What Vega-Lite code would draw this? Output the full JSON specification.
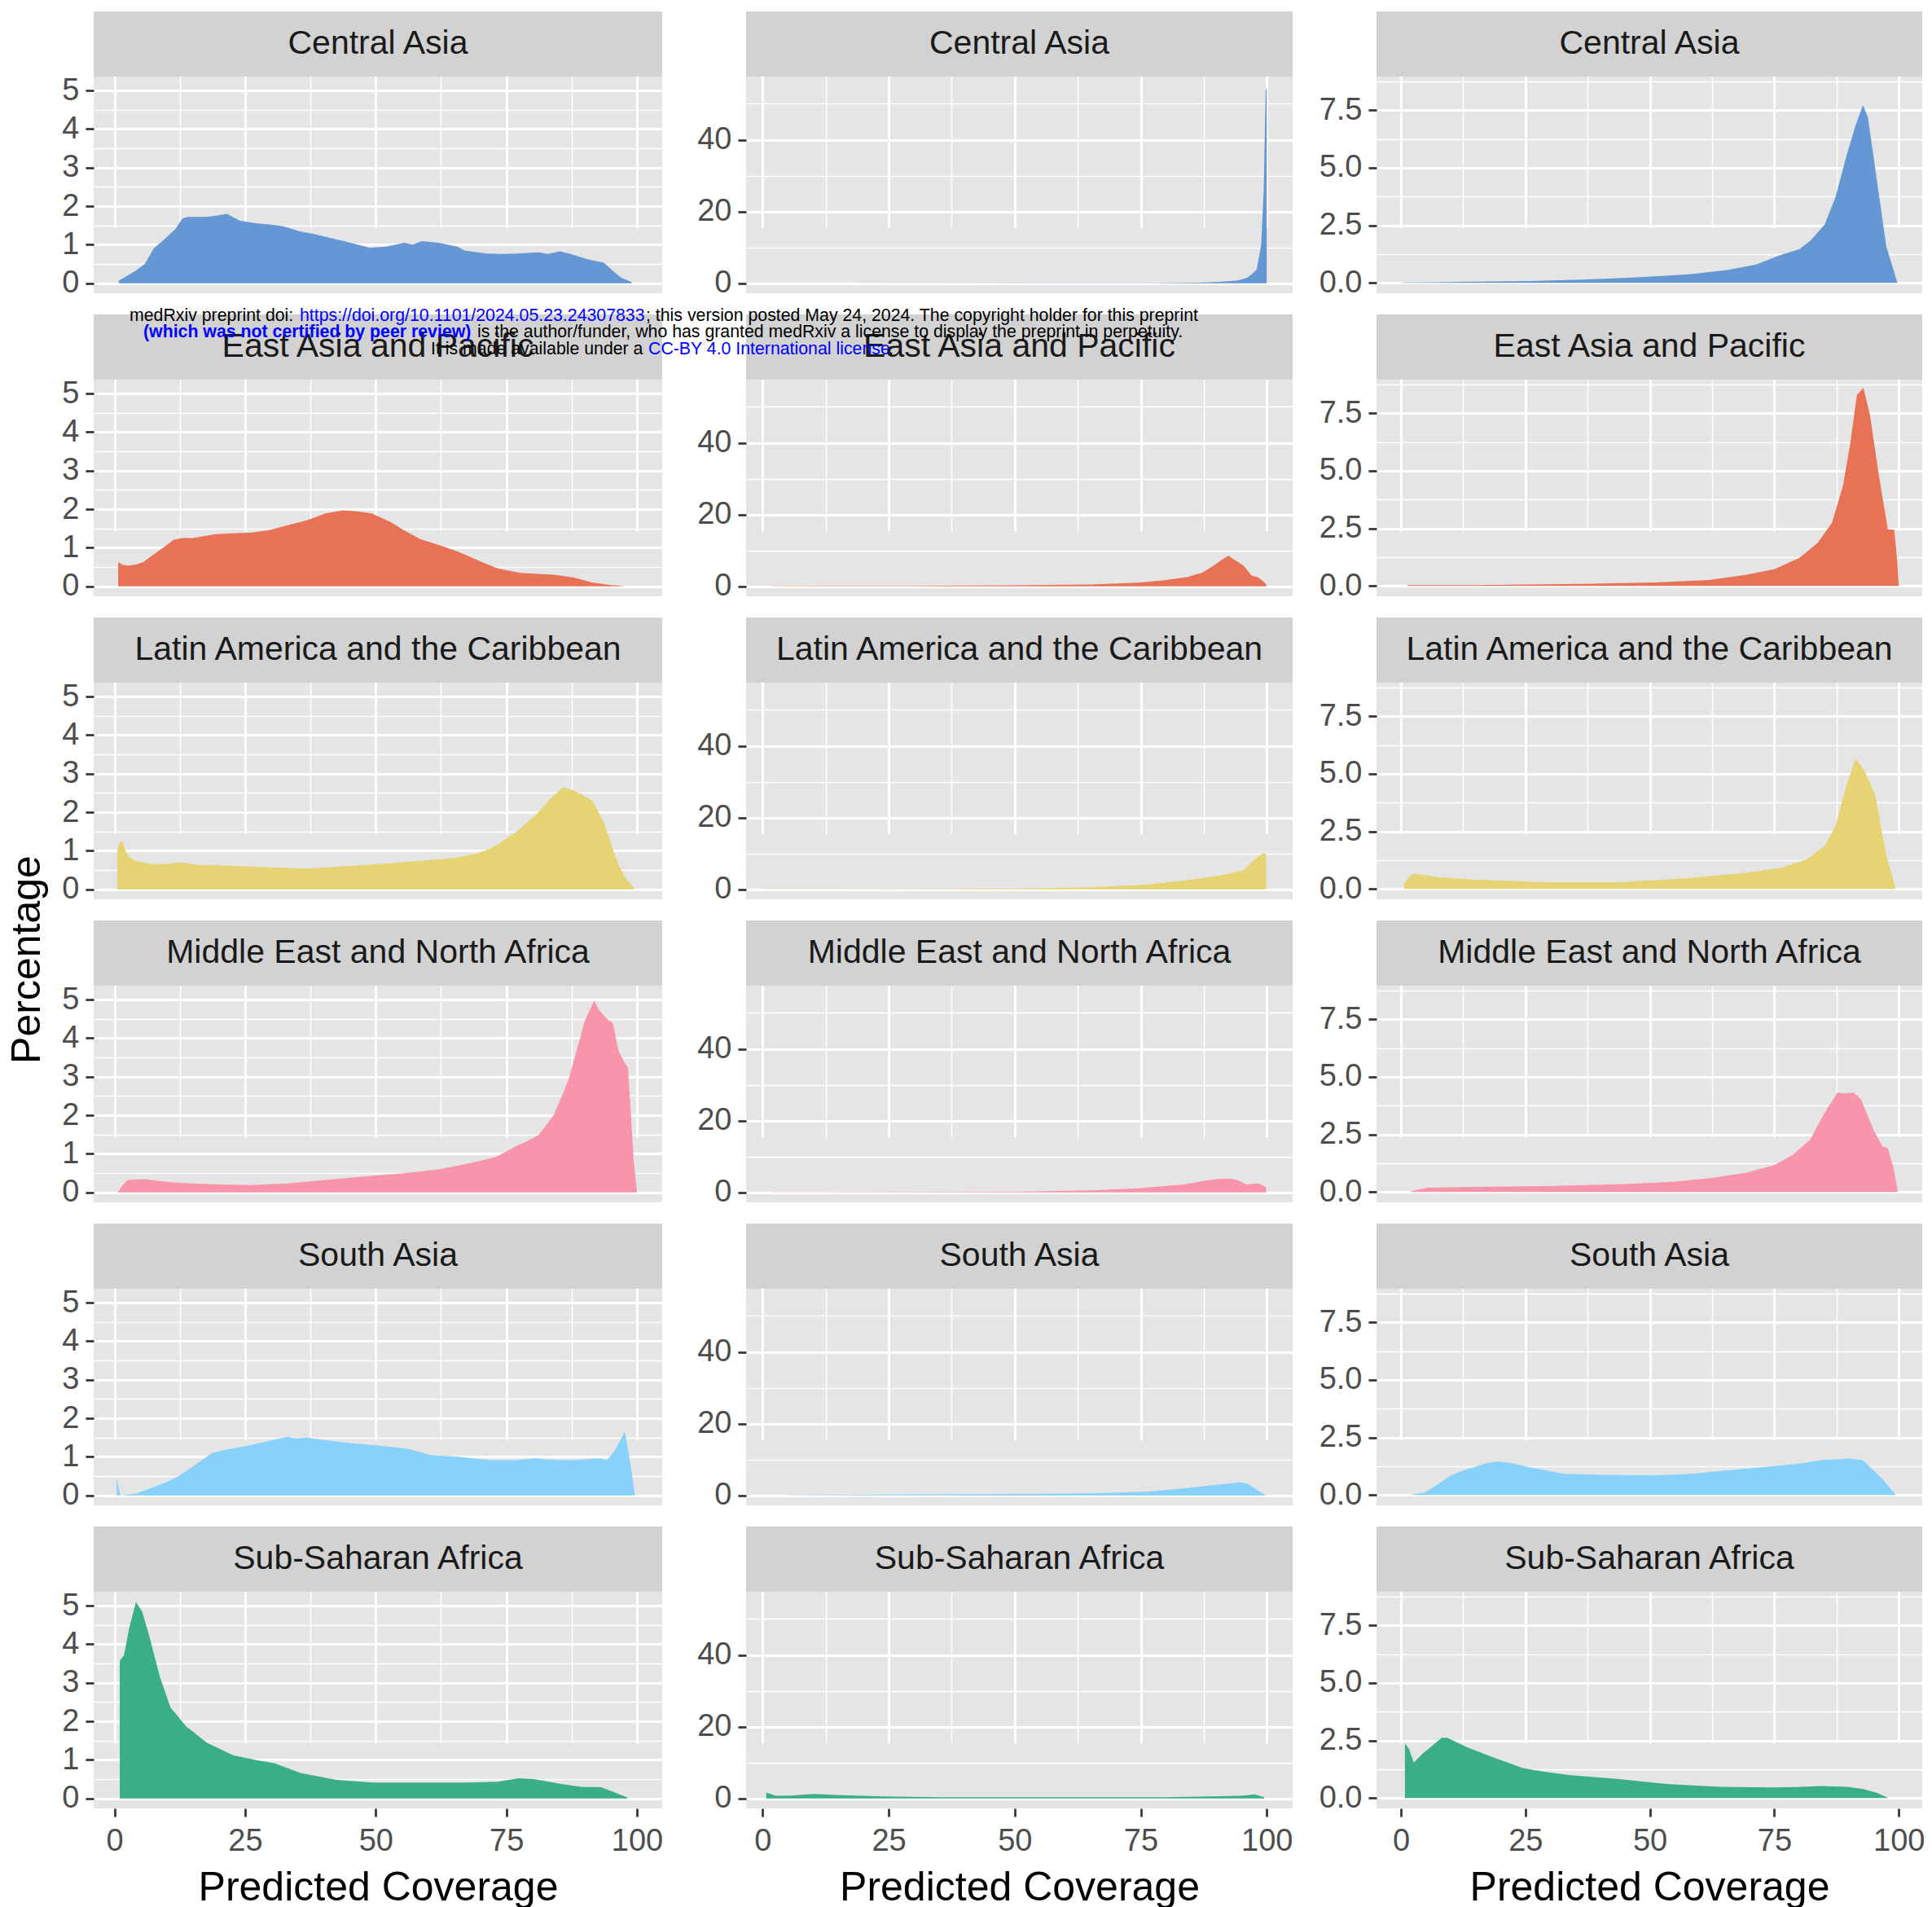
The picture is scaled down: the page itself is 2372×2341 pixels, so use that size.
{
"$schema": "https://vega.github.io/schema/vega-lite/v6.json",
"background": "white",
"padding": {"left": 8, "top": 14, "right": 0, "bottom": 0},
"config": {
  "font": "Liberation Sans",
  "view": {"stroke": null},
  "axis": {"domain": false, "gridColor": "white", "tickColor": "#333333", "labelColor": "#4D4D4D", "labelFont": "Liberation Sans", "labelFontSize": 38, "titleFont": "Liberation Sans", "titleFontWeight": "normal", "titleColor": "black", "titleFontSize": 50},
  "text": {"font": "Liberation Sans"}
},
"datasets": {
  "ca1": [{"x":0.8,"y":0.07},{"x":2.5,"y":0.2},{"x":4,"y":0.32},{"x":5.8,"y":0.5},{"x":7.5,"y":0.9},{"x":10,"y":1.2},{"x":11.6,"y":1.4},{"x":13,"y":1.68},{"x":14,"y":1.72},{"x":17.4,"y":1.72},{"x":19,"y":1.74},{"x":21.5,"y":1.8},{"x":24,"y":1.62},{"x":27.3,"y":1.55},{"x":30,"y":1.52},{"x":32.3,"y":1.48},{"x":35.6,"y":1.34},{"x":38,"y":1.28},{"x":40.6,"y":1.2},{"x":43.9,"y":1.09},{"x":46.5,"y":1.0},{"x":48.9,"y":0.92},{"x":52,"y":0.95},{"x":55.5,"y":1.05},{"x":57,"y":1.0},{"x":58.8,"y":1.09},{"x":62,"y":1.05},{"x":65.6,"y":0.95},{"x":67,"y":0.85},{"x":71.2,"y":0.77},{"x":74,"y":0.76},{"x":77,"y":0.77},{"x":81.2,"y":0.8},{"x":83,"y":0.76},{"x":85.3,"y":0.83},{"x":87,"y":0.77},{"x":90.4,"y":0.63},{"x":93.7,"y":0.53},{"x":95.4,"y":0.32},{"x":97,"y":0.14},{"x":99,"y":0.03}],
  "eap1": [{"x":0.7,"y":0.63},{"x":1.5,"y":0.56},{"x":2.5,"y":0.54},{"x":4,"y":0.56},{"x":5.5,"y":0.63},{"x":7.6,"y":0.84},{"x":9.5,"y":1.02},{"x":11.3,"y":1.21},{"x":13,"y":1.25},{"x":15,"y":1.25},{"x":17,"y":1.3},{"x":19.3,"y":1.35},{"x":22.5,"y":1.37},{"x":25.9,"y":1.39},{"x":29.5,"y":1.45},{"x":33,"y":1.58},{"x":36.8,"y":1.71},{"x":40.4,"y":1.89},{"x":43.7,"y":1.97},{"x":46.5,"y":1.94},{"x":49.2,"y":1.89},{"x":52.8,"y":1.67},{"x":55.7,"y":1.43},{"x":58.6,"y":1.22},{"x":62.3,"y":1.06},{"x":65.9,"y":0.89},{"x":69.6,"y":0.67},{"x":73.2,"y":0.47},{"x":77.6,"y":0.35},{"x":81,"y":0.32},{"x":84.1,"y":0.3},{"x":87.8,"y":0.23},{"x":91.4,"y":0.1},{"x":95,"y":0.03},{"x":98,"y":0.0}],
  "lac1": [{"x":0.5,"y":1.0},{"x":0.9,"y":1.2},{"x":1.5,"y":1.26},{"x":2.2,"y":0.96},{"x":3,"y":0.82},{"x":4,"y":0.74},{"x":6,"y":0.68},{"x":7.6,"y":0.65},{"x":10,"y":0.66},{"x":12.7,"y":0.7},{"x":16.4,"y":0.63},{"x":20,"y":0.62},{"x":25.9,"y":0.59},{"x":30,"y":0.57},{"x":36.8,"y":0.54},{"x":42,"y":0.58},{"x":47.7,"y":0.63},{"x":53,"y":0.68},{"x":58.6,"y":0.74},{"x":62,"y":0.78},{"x":65.9,"y":0.83},{"x":69,"y":0.92},{"x":71.7,"y":1.04},{"x":74,"y":1.22},{"x":76.8,"y":1.48},{"x":78.7,"y":1.7},{"x":80.5,"y":1.91},{"x":82,"y":2.12},{"x":83.4,"y":2.35},{"x":85.9,"y":2.65},{"x":87.8,"y":2.57},{"x":89.5,"y":2.45},{"x":91.4,"y":2.3},{"x":92.5,"y":2.05},{"x":93.6,"y":1.74},{"x":94.8,"y":1.3},{"x":95.8,"y":0.87},{"x":97,"y":0.5},{"x":98,"y":0.26},{"x":99.4,"y":0.04}],
  "mena1": [{"x":0.7,"y":0.02},{"x":1.5,"y":0.18},{"x":2.5,"y":0.32},{"x":4,"y":0.33},{"x":5.8,"y":0.34},{"x":8,"y":0.3},{"x":11.3,"y":0.26},{"x":15,"y":0.23},{"x":18.6,"y":0.21},{"x":25.9,"y":0.19},{"x":33.1,"y":0.23},{"x":40.4,"y":0.32},{"x":47.7,"y":0.41},{"x":55,"y":0.49},{"x":62.3,"y":0.6},{"x":66,"y":0.7},{"x":69.6,"y":0.8},{"x":73.2,"y":0.93},{"x":76.8,"y":1.19},{"x":79,"y":1.33},{"x":81.2,"y":1.49},{"x":84.1,"y":2.01},{"x":85.5,"y":2.45},{"x":87,"y":2.96},{"x":88.5,"y":3.7},{"x":90,"y":4.44},{"x":91.8,"y":4.97},{"x":92.9,"y":4.7},{"x":94.3,"y":4.5},{"x":95.4,"y":4.39},{"x":96.5,"y":3.66},{"x":97.5,"y":3.4},{"x":98.3,"y":3.22},{"x":99.4,"y":0.8},{"x":100,"y":0.02}],
  "sa1": [{"x":0.4,"y":0.43},{"x":0.8,"y":0.2},{"x":1.1,"y":0.0},{"x":4,"y":0.04},{"x":7.6,"y":0.22},{"x":10,"y":0.35},{"x":12,"y":0.48},{"x":14.9,"y":0.74},{"x":18.6,"y":1.09},{"x":20.8,"y":1.17},{"x":25.9,"y":1.3},{"x":29.5,"y":1.41},{"x":33.1,"y":1.52},{"x":34.5,"y":1.48},{"x":36.8,"y":1.5},{"x":40.4,"y":1.43},{"x":44.1,"y":1.37},{"x":49.9,"y":1.3},{"x":55.7,"y":1.22},{"x":60.8,"y":1.04},{"x":65.9,"y":1.0},{"x":71.7,"y":0.91},{"x":76.8,"y":0.91},{"x":80.5,"y":0.96},{"x":84,"y":0.92},{"x":87.8,"y":0.91},{"x":92.9,"y":0.96},{"x":94.3,"y":0.91},{"x":95.8,"y":1.17},{"x":97.7,"y":1.65},{"x":98.7,"y":0.87},{"x":99.6,"y":0.02}],
  "ssa1": [{"x":1,"y":3.57},{"x":1.8,"y":3.71},{"x":2.8,"y":4.42},{"x":4.1,"y":5.09},{"x":5.3,"y":4.84},{"x":6.8,"y":4.13},{"x":8.7,"y":3.14},{"x":10.7,"y":2.36},{"x":13.7,"y":1.87},{"x":17.7,"y":1.44},{"x":22.7,"y":1.12},{"x":27.6,"y":0.98},{"x":30.6,"y":0.91},{"x":35.6,"y":0.66},{"x":42.5,"y":0.48},{"x":49.5,"y":0.41},{"x":57.5,"y":0.41},{"x":67.4,"y":0.41},{"x":73.4,"y":0.43},{"x":77.3,"y":0.52},{"x":80.3,"y":0.5},{"x":85.3,"y":0.38},{"x":89.3,"y":0.3},{"x":93.2,"y":0.29},{"x":96.2,"y":0.13},{"x":98.2,"y":0.02}],
  "ca2": [{"x":1,"y":0.0},{"x":60,"y":0.02},{"x":76.7,"y":0.05},{"x":86,"y":0.15},{"x":90.6,"y":0.4},{"x":94.3,"y":0.8},{"x":96.1,"y":1.5},{"x":97,"y":2.5},{"x":98,"y":3.8},{"x":98.9,"y":10.6},{"x":99.4,"y":25.8},{"x":99.8,"y":53.5},{"x":100,"y":54.8}],
  "eap2": [{"x":1.9,"y":0.05},{"x":30,"y":0.1},{"x":50,"y":0.25},{"x":65,"y":0.5},{"x":74.6,"y":1.0},{"x":79.8,"y":1.7},{"x":84.3,"y":2.6},{"x":87.2,"y":3.8},{"x":89.5,"y":5.8},{"x":91,"y":7.3},{"x":92.4,"y":8.5},{"x":94,"y":7.0},{"x":95.4,"y":5.8},{"x":97,"y":3.0},{"x":98.4,"y":2.4},{"x":99.9,"y":0.6}],
  "lac2": [{"x":0.4,"y":0.05},{"x":30,"y":0.08},{"x":50,"y":0.15},{"x":65,"y":0.55},{"x":76.1,"y":1.3},{"x":83.5,"y":2.4},{"x":91,"y":3.9},{"x":95.4,"y":5.3},{"x":97.6,"y":8.3},{"x":99.1,"y":9.9},{"x":99.9,"y":9.9}],
  "mena2": [{"x":1.9,"y":0.05},{"x":30,"y":0.08},{"x":50,"y":0.15},{"x":65,"y":0.55},{"x":74.6,"y":1.1},{"x":83.5,"y":2.2},{"x":87.9,"y":3.3},{"x":90.5,"y":3.7},{"x":93.1,"y":3.8},{"x":94.5,"y":3.2},{"x":96,"y":2.2},{"x":98.4,"y":2.5},{"x":99.9,"y":1.4}],
  "sa2": [{"x":5.6,"y":0.05},{"x":42.7,"y":0.3},{"x":65,"y":0.55},{"x":76.1,"y":1.0},{"x":83.5,"y":1.9},{"x":89.5,"y":2.9},{"x":94.7,"y":3.6},{"x":96.1,"y":3.3},{"x":98,"y":1.65},{"x":99.7,"y":0.1}],
  "ssa2": [{"x":0.7,"y":1.65},{"x":2.6,"y":0.7},{"x":5.6,"y":0.8},{"x":10,"y":1.25},{"x":14.5,"y":0.95},{"x":24.1,"y":0.55},{"x":35.3,"y":0.3},{"x":50,"y":0.3},{"x":65,"y":0.3},{"x":79.9,"y":0.3},{"x":94.7,"y":0.7},{"x":97.6,"y":1.1},{"x":99.5,"y":0.3}],
  "ca3": [{"x":0.2,"y":0.02},{"x":14.7,"y":0.05},{"x":25.6,"y":0.08},{"x":36.5,"y":0.14},{"x":47.4,"y":0.24},{"x":58.3,"y":0.38},{"x":65.5,"y":0.56},{"x":71.3,"y":0.8},{"x":76.4,"y":1.22},{"x":80,"y":1.46},{"x":82.2,"y":1.82},{"x":85.1,"y":2.53},{"x":87.3,"y":3.73},{"x":89.5,"y":5.52},{"x":91.3,"y":6.83},{"x":92.8,"y":7.72},{"x":93.8,"y":7.19},{"x":95.3,"y":4.92},{"x":97.5,"y":1.58},{"x":99.7,"y":0.02}],
  "eap3": [{"x":1.3,"y":0.04},{"x":14.7,"y":0.04},{"x":36.5,"y":0.09},{"x":51,"y":0.15},{"x":61.9,"y":0.26},{"x":69.2,"y":0.48},{"x":75,"y":0.73},{"x":80,"y":1.21},{"x":83.7,"y":1.87},{"x":86.6,"y":2.75},{"x":88.8,"y":4.36},{"x":90.2,"y":6.11},{"x":91.6,"y":8.3},{"x":92.9,"y":8.6},{"x":94.2,"y":7.43},{"x":96,"y":4.8},{"x":97.8,"y":2.46},{"x":99.1,"y":2.43},{"x":99.6,"y":1.29},{"x":100,"y":0.04}],
  "lac3": [{"x":0.6,"y":0.2},{"x":1.5,"y":0.5},{"x":2.4,"y":0.67},{"x":7.5,"y":0.51},{"x":14.7,"y":0.41},{"x":29.2,"y":0.29},{"x":43.8,"y":0.29},{"x":58.3,"y":0.48},{"x":69.2,"y":0.7},{"x":76.4,"y":0.92},{"x":81.5,"y":1.28},{"x":85.1,"y":1.87},{"x":87.3,"y":2.74},{"x":89.5,"y":4.5},{"x":91.3,"y":5.66},{"x":93.1,"y":5.15},{"x":95.3,"y":4.06},{"x":97.5,"y":1.43},{"x":99.3,"y":0.12}],
  "mena3": [{"x":2,"y":0.03},{"x":5.3,"y":0.19},{"x":14.7,"y":0.22},{"x":29.2,"y":0.26},{"x":43.8,"y":0.34},{"x":54.6,"y":0.44},{"x":61.9,"y":0.59},{"x":69.2,"y":0.83},{"x":75,"y":1.17},{"x":78.7,"y":1.61},{"x":82.2,"y":2.27},{"x":85.1,"y":3.44},{"x":87.7,"y":4.32},{"x":89.1,"y":4.28},{"x":90.9,"y":4.32},{"x":92.4,"y":4.03},{"x":94.9,"y":2.71},{"x":96.7,"y":1.98},{"x":97.8,"y":1.9},{"x":98.9,"y":1.1},{"x":99.8,"y":0.03}],
  "sa3": [{"x":2.4,"y":0.04},{"x":4.9,"y":0.12},{"x":7.5,"y":0.48},{"x":10,"y":0.85},{"x":12.6,"y":1.07},{"x":16.9,"y":1.36},{"x":19.1,"y":1.46},{"x":22,"y":1.4},{"x":25.6,"y":1.21},{"x":32.8,"y":0.92},{"x":40.1,"y":0.88},{"x":51,"y":0.85},{"x":58.3,"y":0.92},{"x":65.5,"y":1.07},{"x":72.8,"y":1.21},{"x":80,"y":1.36},{"x":84.3,"y":1.51},{"x":90.1,"y":1.58},{"x":92.7,"y":1.51},{"x":94.6,"y":1.14},{"x":96.7,"y":0.7},{"x":99.3,"y":0.04}],
  "ssa3": [{"x":0.8,"y":2.38},{"x":1.6,"y":2.14},{"x":2.6,"y":1.54},{"x":4.2,"y":1.9},{"x":6.2,"y":2.26},{"x":8.2,"y":2.62},{"x":9.3,"y":2.62},{"x":13.3,"y":2.2},{"x":18.4,"y":1.78},{"x":24.5,"y":1.3},{"x":28.6,"y":1.15},{"x":33.7,"y":1.0},{"x":43.8,"y":0.82},{"x":54,"y":0.6},{"x":64.2,"y":0.49},{"x":74.4,"y":0.46},{"x":79.5,"y":0.48},{"x":84.5,"y":0.52},{"x":89.6,"y":0.49},{"x":92.7,"y":0.4},{"x":95.7,"y":0.22},{"x":97.9,"y":0.0}]
},
"title": {"text": "Percentage", "orient": "left", "anchor": "middle", "fontSize": 50, "fontWeight": "normal", "font": "Liberation Sans", "color": "black", "offset": 17},
"columns": 3,
"spacing": {"row": 26, "column": 103},
"bounds": "flush",
"concat": [
 {"width": 698, "height": 346, "view": {"fill": "#E5E5E5", "stroke": null}, "resolve": {"scale": {"y": "independent"}, "axis": {"x": "independent", "y": "independent"}},
  "layer": [
   {"data": {"name": "ca1"}, "resolve": {"axis": {"x": "independent", "y": "independent"}}, "layer": [
     {"mark": {"type": "area", "opacity": 0}, "encoding": {
       "x": {"field": "x", "type": "quantitative", "scale": {"domain": [-4.0, 104.84], "nice": false, "zero": false}, "axis": {"orient": "bottom", "values": [12.5, 37.5, 62.5, 87.5], "grid": true, "gridWidth": 1.5, "labels": false, "ticks": false, "title": null}},
       "y": {"field": "y", "type": "quantitative", "stack": null, "scale": {"domain": [-0.26, 5.36], "range": [346, 80], "nice": false, "zero": false}, "axis": {"orient": "left", "values": [0.5, 1.5, 2.5, 3.5, 4.5], "grid": true, "gridWidth": 1.5, "labels": false, "ticks": false, "title": null}}}},
     {"mark": {"type": "area", "color": "#6497D3"}, "encoding": {
       "x": {"field": "x", "type": "quantitative", "axis": {"orient": "bottom", "values": [0, 25, 50, 75, 100], "grid": true, "gridWidth": 3, "labels": false, "ticks": false, "title": null}},
       "y": {"field": "y", "type": "quantitative", "stack": null, "axis": {"orient": "left", "values": [0, 1, 2, 3, 4, 5], "grid": true, "gridWidth": 3, "tickSize": 10, "tickWidth": 2.7, "labelPadding": 8, "title": null}}}}]},
   {"data": {"values": [{"label": "Central Asia"}]}, "layer": [
     {"mark": {"type": "rect", "color": "#D2D2D2"}, "encoding": {"y": {"datum": 0, "type": "quantitative", "scale": {"domain": [0, 1], "range": [80, 0]}, "axis": null}, "y2": {"datum": 1}}},
     {"mark": {"type": "text", "fontSize": 41, "color": "#1A1A1A", "baseline": "middle", "align": "center"}, "encoding": {"text": {"field": "label"}, "y": {"datum": 0.5, "type": "quantitative"}}}]}
  ]},
 {"width": 671, "height": 346, "view": {"fill": "#E5E5E5", "stroke": null}, "resolve": {"scale": {"y": "independent"}, "axis": {"x": "independent", "y": "independent"}},
  "layer": [
   {"data": {"name": "ca2"}, "resolve": {"axis": {"x": "independent", "y": "independent"}}, "layer": [
     {"mark": {"type": "area", "opacity": 0}, "encoding": {
       "x": {"field": "x", "type": "quantitative", "scale": {"domain": [-3.3, 105.14], "nice": false, "zero": false}, "axis": {"orient": "bottom", "values": [12.5, 37.5, 62.5, 87.5], "grid": true, "gridWidth": 1.5, "labels": false, "ticks": false, "title": null}},
       "y": {"field": "y", "type": "quantitative", "stack": null, "scale": {"domain": [-2.8, 57.6], "range": [346, 80], "nice": false, "zero": false}, "axis": {"orient": "left", "values": [10, 30, 50], "grid": true, "gridWidth": 1.5, "labels": false, "ticks": false, "title": null}}}},
     {"mark": {"type": "area", "color": "#6497D3"}, "encoding": {
       "x": {"field": "x", "type": "quantitative", "axis": {"orient": "bottom", "values": [0, 25, 50, 75, 100], "grid": true, "gridWidth": 3, "labels": false, "ticks": false, "title": null}},
       "y": {"field": "y", "type": "quantitative", "stack": null, "axis": {"orient": "left", "values": [0, 20, 40], "grid": true, "gridWidth": 3, "tickSize": 10, "tickWidth": 2.7, "labelPadding": 8, "title": null}}}}]},
   {"data": {"values": [{"label": "Central Asia"}]}, "layer": [
     {"mark": {"type": "rect", "color": "#D2D2D2"}, "encoding": {"y": {"datum": 0, "type": "quantitative", "scale": {"domain": [0, 1], "range": [80, 0]}, "axis": null}, "y2": {"datum": 1}}},
     {"mark": {"type": "text", "fontSize": 41, "color": "#1A1A1A", "baseline": "middle", "align": "center"}, "encoding": {"text": {"field": "label"}, "y": {"datum": 0.5, "type": "quantitative"}}}]}
  ]},
 {"width": 670, "height": 346, "view": {"fill": "#E5E5E5", "stroke": null}, "resolve": {"scale": {"y": "independent"}, "axis": {"x": "independent", "y": "independent"}},
  "layer": [
   {"data": {"name": "ca3"}, "resolve": {"axis": {"x": "independent", "y": "independent"}}, "layer": [
     {"mark": {"type": "area", "opacity": 0}, "encoding": {
       "x": {"field": "x", "type": "quantitative", "scale": {"domain": [-4.91, 104.71], "nice": false, "zero": false}, "axis": {"orient": "bottom", "values": [12.5, 37.5, 62.5, 87.5], "grid": true, "gridWidth": 1.5, "labels": false, "ticks": false, "title": null}},
       "y": {"field": "y", "type": "quantitative", "stack": null, "scale": {"domain": [-0.45, 8.96], "range": [346, 80], "nice": false, "zero": false}, "axis": {"orient": "left", "values": [1.25, 3.75, 6.25, 8.75], "grid": true, "gridWidth": 1.5, "labels": false, "ticks": false, "title": null}}}},
     {"mark": {"type": "area", "color": "#6497D3"}, "encoding": {
       "x": {"field": "x", "type": "quantitative", "axis": {"orient": "bottom", "values": [0, 25, 50, 75, 100], "grid": true, "gridWidth": 3, "labels": false, "ticks": false, "title": null}},
       "y": {"field": "y", "type": "quantitative", "stack": null, "axis": {"orient": "left", "values": [0, 2.5, 5, 7.5], "format": ".1f", "grid": true, "gridWidth": 3, "tickSize": 10, "tickWidth": 2.7, "labelPadding": 8, "title": null}}}}]},
   {"data": {"values": [{"label": "Central Asia"}]}, "layer": [
     {"mark": {"type": "rect", "color": "#D2D2D2"}, "encoding": {"y": {"datum": 0, "type": "quantitative", "scale": {"domain": [0, 1], "range": [80, 0]}, "axis": null}, "y2": {"datum": 1}}},
     {"mark": {"type": "text", "fontSize": 41, "color": "#1A1A1A", "baseline": "middle", "align": "center"}, "encoding": {"text": {"field": "label"}, "y": {"datum": 0.5, "type": "quantitative"}}}]}
  ]},

 {"width": 698, "height": 346, "view": {"fill": "#E5E5E5", "stroke": null}, "resolve": {"scale": {"y": "independent"}, "axis": {"x": "independent", "y": "independent"}},
  "layer": [
   {"data": {"name": "eap1"}, "resolve": {"axis": {"x": "independent", "y": "independent"}}, "layer": [
     {"mark": {"type": "area", "opacity": 0}, "encoding": {
       "x": {"field": "x", "type": "quantitative", "scale": {"domain": [-4.0, 104.84], "nice": false, "zero": false}, "axis": {"orient": "bottom", "values": [12.5, 37.5, 62.5, 87.5], "grid": true, "gridWidth": 1.5, "labels": false, "ticks": false, "title": null}},
       "y": {"field": "y", "type": "quantitative", "stack": null, "scale": {"domain": [-0.26, 5.36], "range": [346, 80], "nice": false, "zero": false}, "axis": {"orient": "left", "values": [0.5, 1.5, 2.5, 3.5, 4.5], "grid": true, "gridWidth": 1.5, "labels": false, "ticks": false, "title": null}}}},
     {"mark": {"type": "area", "color": "#E87255"}, "encoding": {
       "x": {"field": "x", "type": "quantitative", "axis": {"orient": "bottom", "values": [0, 25, 50, 75, 100], "grid": true, "gridWidth": 3, "labels": false, "ticks": false, "title": null}},
       "y": {"field": "y", "type": "quantitative", "stack": null, "axis": {"orient": "left", "values": [0, 1, 2, 3, 4, 5], "grid": true, "gridWidth": 3, "tickSize": 10, "tickWidth": 2.7, "labelPadding": 8, "title": null}}}}]},
   {"data": {"values": [{"label": "East Asia and Pacific"}]}, "layer": [
     {"mark": {"type": "rect", "color": "#D2D2D2"}, "encoding": {"y": {"datum": 0, "type": "quantitative", "scale": {"domain": [0, 1], "range": [80, 0]}, "axis": null}, "y2": {"datum": 1}}},
     {"mark": {"type": "text", "fontSize": 41, "color": "#1A1A1A", "baseline": "middle", "align": "center"}, "encoding": {"text": {"field": "label"}, "y": {"datum": 0.5, "type": "quantitative"}}}]}
  ]},
 {"width": 671, "height": 346, "view": {"fill": "#E5E5E5", "stroke": null}, "resolve": {"scale": {"y": "independent"}, "axis": {"x": "independent", "y": "independent"}},
  "layer": [
   {"data": {"name": "eap2"}, "resolve": {"axis": {"x": "independent", "y": "independent"}}, "layer": [
     {"mark": {"type": "area", "opacity": 0}, "encoding": {
       "x": {"field": "x", "type": "quantitative", "scale": {"domain": [-3.3, 105.14], "nice": false, "zero": false}, "axis": {"orient": "bottom", "values": [12.5, 37.5, 62.5, 87.5], "grid": true, "gridWidth": 1.5, "labels": false, "ticks": false, "title": null}},
       "y": {"field": "y", "type": "quantitative", "stack": null, "scale": {"domain": [-2.8, 57.6], "range": [346, 80], "nice": false, "zero": false}, "axis": {"orient": "left", "values": [10, 30, 50], "grid": true, "gridWidth": 1.5, "labels": false, "ticks": false, "title": null}}}},
     {"mark": {"type": "area", "color": "#E87255"}, "encoding": {
       "x": {"field": "x", "type": "quantitative", "axis": {"orient": "bottom", "values": [0, 25, 50, 75, 100], "grid": true, "gridWidth": 3, "labels": false, "ticks": false, "title": null}},
       "y": {"field": "y", "type": "quantitative", "stack": null, "axis": {"orient": "left", "values": [0, 20, 40], "grid": true, "gridWidth": 3, "tickSize": 10, "tickWidth": 2.7, "labelPadding": 8, "title": null}}}}]},
   {"data": {"values": [{"label": "East Asia and Pacific"}]}, "layer": [
     {"mark": {"type": "rect", "color": "#D2D2D2"}, "encoding": {"y": {"datum": 0, "type": "quantitative", "scale": {"domain": [0, 1], "range": [80, 0]}, "axis": null}, "y2": {"datum": 1}}},
     {"mark": {"type": "text", "fontSize": 41, "color": "#1A1A1A", "baseline": "middle", "align": "center"}, "encoding": {"text": {"field": "label"}, "y": {"datum": 0.5, "type": "quantitative"}}},
     {"mark": {"type": "text", "text": "medRxiv preprint doi:", "fontSize": 21.3, "color": "black", "align": "left", "baseline": "middle", "dx": -1092.5}, "encoding": {"y": {"datum": 0.975, "type": "quantitative"}}},
     {"mark": {"type": "text", "text": "https://doi.org/10.1101/2024.05.23.24307833", "fontSize": 21.3, "color": "#0000FF", "align": "left", "baseline": "middle", "dx": -883.5}, "encoding": {"y": {"datum": 0.975, "type": "quantitative"}}},
     {"mark": {"type": "text", "text": "; this version posted May 24, 2024. The copyright holder for this preprint", "fontSize": 21.3, "color": "black", "align": "left", "baseline": "middle", "dx": -458.5}, "encoding": {"y": {"datum": 0.975, "type": "quantitative"}}},
     {"mark": {"type": "text", "text": "(which was not certified by peer review)", "fontSize": 21.3, "fontWeight": "bold", "color": "#0000FF", "align": "left", "baseline": "middle", "dx": -1075.5}, "encoding": {"y": {"datum": 0.725, "type": "quantitative"}}},
     {"mark": {"type": "text", "text": "is the author/funder, who has granted medRxiv a license to display the preprint in perpetuity.", "fontSize": 21.3, "color": "black", "align": "left", "baseline": "middle", "dx": -665.5}, "encoding": {"y": {"datum": 0.725, "type": "quantitative"}}},
     {"mark": {"type": "text", "text": "It is made available under a", "fontSize": 21.3, "color": "black", "align": "left", "baseline": "middle", "dx": -722.5}, "encoding": {"y": {"datum": 0.4625, "type": "quantitative"}}},
     {"mark": {"type": "text", "text": "CC-BY 4.0 International license", "fontSize": 21.3, "color": "#0000FF", "align": "left", "baseline": "middle", "dx": -455.5}, "encoding": {"y": {"datum": 0.4625, "type": "quantitative"}}},
     {"mark": {"type": "text", "text": ".", "fontSize": 21.3, "color": "black", "align": "left", "baseline": "middle", "dx": -160.5}, "encoding": {"y": {"datum": 0.4625, "type": "quantitative"}}}]}
  ]},
 {"width": 670, "height": 346, "view": {"fill": "#E5E5E5", "stroke": null}, "resolve": {"scale": {"y": "independent"}, "axis": {"x": "independent", "y": "independent"}},
  "layer": [
   {"data": {"name": "eap3"}, "resolve": {"axis": {"x": "independent", "y": "independent"}}, "layer": [
     {"mark": {"type": "area", "opacity": 0}, "encoding": {
       "x": {"field": "x", "type": "quantitative", "scale": {"domain": [-4.91, 104.71], "nice": false, "zero": false}, "axis": {"orient": "bottom", "values": [12.5, 37.5, 62.5, 87.5], "grid": true, "gridWidth": 1.5, "labels": false, "ticks": false, "title": null}},
       "y": {"field": "y", "type": "quantitative", "stack": null, "scale": {"domain": [-0.45, 8.96], "range": [346, 80], "nice": false, "zero": false}, "axis": {"orient": "left", "values": [1.25, 3.75, 6.25, 8.75], "grid": true, "gridWidth": 1.5, "labels": false, "ticks": false, "title": null}}}},
     {"mark": {"type": "area", "color": "#E87255"}, "encoding": {
       "x": {"field": "x", "type": "quantitative", "axis": {"orient": "bottom", "values": [0, 25, 50, 75, 100], "grid": true, "gridWidth": 3, "labels": false, "ticks": false, "title": null}},
       "y": {"field": "y", "type": "quantitative", "stack": null, "axis": {"orient": "left", "values": [0, 2.5, 5, 7.5], "format": ".1f", "grid": true, "gridWidth": 3, "tickSize": 10, "tickWidth": 2.7, "labelPadding": 8, "title": null}}}}]},
   {"data": {"values": [{"label": "East Asia and Pacific"}]}, "layer": [
     {"mark": {"type": "rect", "color": "#D2D2D2"}, "encoding": {"y": {"datum": 0, "type": "quantitative", "scale": {"domain": [0, 1], "range": [80, 0]}, "axis": null}, "y2": {"datum": 1}}},
     {"mark": {"type": "text", "fontSize": 41, "color": "#1A1A1A", "baseline": "middle", "align": "center"}, "encoding": {"text": {"field": "label"}, "y": {"datum": 0.5, "type": "quantitative"}}}]}
  ]},

 {"width": 698, "height": 346, "view": {"fill": "#E5E5E5", "stroke": null}, "resolve": {"scale": {"y": "independent"}, "axis": {"x": "independent", "y": "independent"}},
  "layer": [
   {"data": {"name": "lac1"}, "resolve": {"axis": {"x": "independent", "y": "independent"}}, "layer": [
     {"mark": {"type": "area", "opacity": 0}, "encoding": {
       "x": {"field": "x", "type": "quantitative", "scale": {"domain": [-4.0, 104.84], "nice": false, "zero": false}, "axis": {"orient": "bottom", "values": [12.5, 37.5, 62.5, 87.5], "grid": true, "gridWidth": 1.5, "labels": false, "ticks": false, "title": null}},
       "y": {"field": "y", "type": "quantitative", "stack": null, "scale": {"domain": [-0.26, 5.36], "range": [346, 80], "nice": false, "zero": false}, "axis": {"orient": "left", "values": [0.5, 1.5, 2.5, 3.5, 4.5], "grid": true, "gridWidth": 1.5, "labels": false, "ticks": false, "title": null}}}},
     {"mark": {"type": "area", "color": "#E6D474"}, "encoding": {
       "x": {"field": "x", "type": "quantitative", "axis": {"orient": "bottom", "values": [0, 25, 50, 75, 100], "grid": true, "gridWidth": 3, "labels": false, "ticks": false, "title": null}},
       "y": {"field": "y", "type": "quantitative", "stack": null, "axis": {"orient": "left", "values": [0, 1, 2, 3, 4, 5], "grid": true, "gridWidth": 3, "tickSize": 10, "tickWidth": 2.7, "labelPadding": 8, "title": null}}}}]},
   {"data": {"values": [{"label": "Latin America and the Caribbean"}]}, "layer": [
     {"mark": {"type": "rect", "color": "#D2D2D2"}, "encoding": {"y": {"datum": 0, "type": "quantitative", "scale": {"domain": [0, 1], "range": [80, 0]}, "axis": null}, "y2": {"datum": 1}}},
     {"mark": {"type": "text", "fontSize": 41, "color": "#1A1A1A", "baseline": "middle", "align": "center"}, "encoding": {"text": {"field": "label"}, "y": {"datum": 0.5, "type": "quantitative"}}}]}
  ]},
 {"width": 671, "height": 346, "view": {"fill": "#E5E5E5", "stroke": null}, "resolve": {"scale": {"y": "independent"}, "axis": {"x": "independent", "y": "independent"}},
  "layer": [
   {"data": {"name": "lac2"}, "resolve": {"axis": {"x": "independent", "y": "independent"}}, "layer": [
     {"mark": {"type": "area", "opacity": 0}, "encoding": {
       "x": {"field": "x", "type": "quantitative", "scale": {"domain": [-3.3, 105.14], "nice": false, "zero": false}, "axis": {"orient": "bottom", "values": [12.5, 37.5, 62.5, 87.5], "grid": true, "gridWidth": 1.5, "labels": false, "ticks": false, "title": null}},
       "y": {"field": "y", "type": "quantitative", "stack": null, "scale": {"domain": [-2.8, 57.6], "range": [346, 80], "nice": false, "zero": false}, "axis": {"orient": "left", "values": [10, 30, 50], "grid": true, "gridWidth": 1.5, "labels": false, "ticks": false, "title": null}}}},
     {"mark": {"type": "area", "color": "#E6D474"}, "encoding": {
       "x": {"field": "x", "type": "quantitative", "axis": {"orient": "bottom", "values": [0, 25, 50, 75, 100], "grid": true, "gridWidth": 3, "labels": false, "ticks": false, "title": null}},
       "y": {"field": "y", "type": "quantitative", "stack": null, "axis": {"orient": "left", "values": [0, 20, 40], "grid": true, "gridWidth": 3, "tickSize": 10, "tickWidth": 2.7, "labelPadding": 8, "title": null}}}}]},
   {"data": {"values": [{"label": "Latin America and the Caribbean"}]}, "layer": [
     {"mark": {"type": "rect", "color": "#D2D2D2"}, "encoding": {"y": {"datum": 0, "type": "quantitative", "scale": {"domain": [0, 1], "range": [80, 0]}, "axis": null}, "y2": {"datum": 1}}},
     {"mark": {"type": "text", "fontSize": 41, "color": "#1A1A1A", "baseline": "middle", "align": "center"}, "encoding": {"text": {"field": "label"}, "y": {"datum": 0.5, "type": "quantitative"}}}]}
  ]},
 {"width": 670, "height": 346, "view": {"fill": "#E5E5E5", "stroke": null}, "resolve": {"scale": {"y": "independent"}, "axis": {"x": "independent", "y": "independent"}},
  "layer": [
   {"data": {"name": "lac3"}, "resolve": {"axis": {"x": "independent", "y": "independent"}}, "layer": [
     {"mark": {"type": "area", "opacity": 0}, "encoding": {
       "x": {"field": "x", "type": "quantitative", "scale": {"domain": [-4.91, 104.71], "nice": false, "zero": false}, "axis": {"orient": "bottom", "values": [12.5, 37.5, 62.5, 87.5], "grid": true, "gridWidth": 1.5, "labels": false, "ticks": false, "title": null}},
       "y": {"field": "y", "type": "quantitative", "stack": null, "scale": {"domain": [-0.45, 8.96], "range": [346, 80], "nice": false, "zero": false}, "axis": {"orient": "left", "values": [1.25, 3.75, 6.25, 8.75], "grid": true, "gridWidth": 1.5, "labels": false, "ticks": false, "title": null}}}},
     {"mark": {"type": "area", "color": "#E6D474"}, "encoding": {
       "x": {"field": "x", "type": "quantitative", "axis": {"orient": "bottom", "values": [0, 25, 50, 75, 100], "grid": true, "gridWidth": 3, "labels": false, "ticks": false, "title": null}},
       "y": {"field": "y", "type": "quantitative", "stack": null, "axis": {"orient": "left", "values": [0, 2.5, 5, 7.5], "format": ".1f", "grid": true, "gridWidth": 3, "tickSize": 10, "tickWidth": 2.7, "labelPadding": 8, "title": null}}}}]},
   {"data": {"values": [{"label": "Latin America and the Caribbean"}]}, "layer": [
     {"mark": {"type": "rect", "color": "#D2D2D2"}, "encoding": {"y": {"datum": 0, "type": "quantitative", "scale": {"domain": [0, 1], "range": [80, 0]}, "axis": null}, "y2": {"datum": 1}}},
     {"mark": {"type": "text", "fontSize": 41, "color": "#1A1A1A", "baseline": "middle", "align": "center"}, "encoding": {"text": {"field": "label"}, "y": {"datum": 0.5, "type": "quantitative"}}}]}
  ]},

 {"width": 698, "height": 346, "view": {"fill": "#E5E5E5", "stroke": null}, "resolve": {"scale": {"y": "independent"}, "axis": {"x": "independent", "y": "independent"}},
  "layer": [
   {"data": {"name": "mena1"}, "resolve": {"axis": {"x": "independent", "y": "independent"}}, "layer": [
     {"mark": {"type": "area", "opacity": 0}, "encoding": {
       "x": {"field": "x", "type": "quantitative", "scale": {"domain": [-4.0, 104.84], "nice": false, "zero": false}, "axis": {"orient": "bottom", "values": [12.5, 37.5, 62.5, 87.5], "grid": true, "gridWidth": 1.5, "labels": false, "ticks": false, "title": null}},
       "y": {"field": "y", "type": "quantitative", "stack": null, "scale": {"domain": [-0.26, 5.36], "range": [346, 80], "nice": false, "zero": false}, "axis": {"orient": "left", "values": [0.5, 1.5, 2.5, 3.5, 4.5], "grid": true, "gridWidth": 1.5, "labels": false, "ticks": false, "title": null}}}},
     {"mark": {"type": "area", "color": "#F895AA"}, "encoding": {
       "x": {"field": "x", "type": "quantitative", "axis": {"orient": "bottom", "values": [0, 25, 50, 75, 100], "grid": true, "gridWidth": 3, "labels": false, "ticks": false, "title": null}},
       "y": {"field": "y", "type": "quantitative", "stack": null, "axis": {"orient": "left", "values": [0, 1, 2, 3, 4, 5], "grid": true, "gridWidth": 3, "tickSize": 10, "tickWidth": 2.7, "labelPadding": 8, "title": null}}}}]},
   {"data": {"values": [{"label": "Middle East and North Africa"}]}, "layer": [
     {"mark": {"type": "rect", "color": "#D2D2D2"}, "encoding": {"y": {"datum": 0, "type": "quantitative", "scale": {"domain": [0, 1], "range": [80, 0]}, "axis": null}, "y2": {"datum": 1}}},
     {"mark": {"type": "text", "fontSize": 41, "color": "#1A1A1A", "baseline": "middle", "align": "center"}, "encoding": {"text": {"field": "label"}, "y": {"datum": 0.5, "type": "quantitative"}}}]}
  ]},
 {"width": 671, "height": 346, "view": {"fill": "#E5E5E5", "stroke": null}, "resolve": {"scale": {"y": "independent"}, "axis": {"x": "independent", "y": "independent"}},
  "layer": [
   {"data": {"name": "mena2"}, "resolve": {"axis": {"x": "independent", "y": "independent"}}, "layer": [
     {"mark": {"type": "area", "opacity": 0}, "encoding": {
       "x": {"field": "x", "type": "quantitative", "scale": {"domain": [-3.3, 105.14], "nice": false, "zero": false}, "axis": {"orient": "bottom", "values": [12.5, 37.5, 62.5, 87.5], "grid": true, "gridWidth": 1.5, "labels": false, "ticks": false, "title": null}},
       "y": {"field": "y", "type": "quantitative", "stack": null, "scale": {"domain": [-2.8, 57.6], "range": [346, 80], "nice": false, "zero": false}, "axis": {"orient": "left", "values": [10, 30, 50], "grid": true, "gridWidth": 1.5, "labels": false, "ticks": false, "title": null}}}},
     {"mark": {"type": "area", "color": "#F895AA"}, "encoding": {
       "x": {"field": "x", "type": "quantitative", "axis": {"orient": "bottom", "values": [0, 25, 50, 75, 100], "grid": true, "gridWidth": 3, "labels": false, "ticks": false, "title": null}},
       "y": {"field": "y", "type": "quantitative", "stack": null, "axis": {"orient": "left", "values": [0, 20, 40], "grid": true, "gridWidth": 3, "tickSize": 10, "tickWidth": 2.7, "labelPadding": 8, "title": null}}}}]},
   {"data": {"values": [{"label": "Middle East and North Africa"}]}, "layer": [
     {"mark": {"type": "rect", "color": "#D2D2D2"}, "encoding": {"y": {"datum": 0, "type": "quantitative", "scale": {"domain": [0, 1], "range": [80, 0]}, "axis": null}, "y2": {"datum": 1}}},
     {"mark": {"type": "text", "fontSize": 41, "color": "#1A1A1A", "baseline": "middle", "align": "center"}, "encoding": {"text": {"field": "label"}, "y": {"datum": 0.5, "type": "quantitative"}}}]}
  ]},
 {"width": 670, "height": 346, "view": {"fill": "#E5E5E5", "stroke": null}, "resolve": {"scale": {"y": "independent"}, "axis": {"x": "independent", "y": "independent"}},
  "layer": [
   {"data": {"name": "mena3"}, "resolve": {"axis": {"x": "independent", "y": "independent"}}, "layer": [
     {"mark": {"type": "area", "opacity": 0}, "encoding": {
       "x": {"field": "x", "type": "quantitative", "scale": {"domain": [-4.91, 104.71], "nice": false, "zero": false}, "axis": {"orient": "bottom", "values": [12.5, 37.5, 62.5, 87.5], "grid": true, "gridWidth": 1.5, "labels": false, "ticks": false, "title": null}},
       "y": {"field": "y", "type": "quantitative", "stack": null, "scale": {"domain": [-0.45, 8.96], "range": [346, 80], "nice": false, "zero": false}, "axis": {"orient": "left", "values": [1.25, 3.75, 6.25, 8.75], "grid": true, "gridWidth": 1.5, "labels": false, "ticks": false, "title": null}}}},
     {"mark": {"type": "area", "color": "#F895AA"}, "encoding": {
       "x": {"field": "x", "type": "quantitative", "axis": {"orient": "bottom", "values": [0, 25, 50, 75, 100], "grid": true, "gridWidth": 3, "labels": false, "ticks": false, "title": null}},
       "y": {"field": "y", "type": "quantitative", "stack": null, "axis": {"orient": "left", "values": [0, 2.5, 5, 7.5], "format": ".1f", "grid": true, "gridWidth": 3, "tickSize": 10, "tickWidth": 2.7, "labelPadding": 8, "title": null}}}}]},
   {"data": {"values": [{"label": "Middle East and North Africa"}]}, "layer": [
     {"mark": {"type": "rect", "color": "#D2D2D2"}, "encoding": {"y": {"datum": 0, "type": "quantitative", "scale": {"domain": [0, 1], "range": [80, 0]}, "axis": null}, "y2": {"datum": 1}}},
     {"mark": {"type": "text", "fontSize": 41, "color": "#1A1A1A", "baseline": "middle", "align": "center"}, "encoding": {"text": {"field": "label"}, "y": {"datum": 0.5, "type": "quantitative"}}}]}
  ]},

 {"width": 698, "height": 346, "view": {"fill": "#E5E5E5", "stroke": null}, "resolve": {"scale": {"y": "independent"}, "axis": {"x": "independent", "y": "independent"}},
  "layer": [
   {"data": {"name": "sa1"}, "resolve": {"axis": {"x": "independent", "y": "independent"}}, "layer": [
     {"mark": {"type": "area", "opacity": 0}, "encoding": {
       "x": {"field": "x", "type": "quantitative", "scale": {"domain": [-4.0, 104.84], "nice": false, "zero": false}, "axis": {"orient": "bottom", "values": [12.5, 37.5, 62.5, 87.5], "grid": true, "gridWidth": 1.5, "labels": false, "ticks": false, "title": null}},
       "y": {"field": "y", "type": "quantitative", "stack": null, "scale": {"domain": [-0.26, 5.36], "range": [346, 80], "nice": false, "zero": false}, "axis": {"orient": "left", "values": [0.5, 1.5, 2.5, 3.5, 4.5], "grid": true, "gridWidth": 1.5, "labels": false, "ticks": false, "title": null}}}},
     {"mark": {"type": "area", "color": "#88D1FA"}, "encoding": {
       "x": {"field": "x", "type": "quantitative", "axis": {"orient": "bottom", "values": [0, 25, 50, 75, 100], "grid": true, "gridWidth": 3, "labels": false, "ticks": false, "title": null}},
       "y": {"field": "y", "type": "quantitative", "stack": null, "axis": {"orient": "left", "values": [0, 1, 2, 3, 4, 5], "grid": true, "gridWidth": 3, "tickSize": 10, "tickWidth": 2.7, "labelPadding": 8, "title": null}}}}]},
   {"data": {"values": [{"label": "South Asia"}]}, "layer": [
     {"mark": {"type": "rect", "color": "#D2D2D2"}, "encoding": {"y": {"datum": 0, "type": "quantitative", "scale": {"domain": [0, 1], "range": [80, 0]}, "axis": null}, "y2": {"datum": 1}}},
     {"mark": {"type": "text", "fontSize": 41, "color": "#1A1A1A", "baseline": "middle", "align": "center"}, "encoding": {"text": {"field": "label"}, "y": {"datum": 0.5, "type": "quantitative"}}}]}
  ]},
 {"width": 671, "height": 346, "view": {"fill": "#E5E5E5", "stroke": null}, "resolve": {"scale": {"y": "independent"}, "axis": {"x": "independent", "y": "independent"}},
  "layer": [
   {"data": {"name": "sa2"}, "resolve": {"axis": {"x": "independent", "y": "independent"}}, "layer": [
     {"mark": {"type": "area", "opacity": 0}, "encoding": {
       "x": {"field": "x", "type": "quantitative", "scale": {"domain": [-3.3, 105.14], "nice": false, "zero": false}, "axis": {"orient": "bottom", "values": [12.5, 37.5, 62.5, 87.5], "grid": true, "gridWidth": 1.5, "labels": false, "ticks": false, "title": null}},
       "y": {"field": "y", "type": "quantitative", "stack": null, "scale": {"domain": [-2.8, 57.6], "range": [346, 80], "nice": false, "zero": false}, "axis": {"orient": "left", "values": [10, 30, 50], "grid": true, "gridWidth": 1.5, "labels": false, "ticks": false, "title": null}}}},
     {"mark": {"type": "area", "color": "#88D1FA"}, "encoding": {
       "x": {"field": "x", "type": "quantitative", "axis": {"orient": "bottom", "values": [0, 25, 50, 75, 100], "grid": true, "gridWidth": 3, "labels": false, "ticks": false, "title": null}},
       "y": {"field": "y", "type": "quantitative", "stack": null, "axis": {"orient": "left", "values": [0, 20, 40], "grid": true, "gridWidth": 3, "tickSize": 10, "tickWidth": 2.7, "labelPadding": 8, "title": null}}}}]},
   {"data": {"values": [{"label": "South Asia"}]}, "layer": [
     {"mark": {"type": "rect", "color": "#D2D2D2"}, "encoding": {"y": {"datum": 0, "type": "quantitative", "scale": {"domain": [0, 1], "range": [80, 0]}, "axis": null}, "y2": {"datum": 1}}},
     {"mark": {"type": "text", "fontSize": 41, "color": "#1A1A1A", "baseline": "middle", "align": "center"}, "encoding": {"text": {"field": "label"}, "y": {"datum": 0.5, "type": "quantitative"}}}]}
  ]},
 {"width": 670, "height": 346, "view": {"fill": "#E5E5E5", "stroke": null}, "resolve": {"scale": {"y": "independent"}, "axis": {"x": "independent", "y": "independent"}},
  "layer": [
   {"data": {"name": "sa3"}, "resolve": {"axis": {"x": "independent", "y": "independent"}}, "layer": [
     {"mark": {"type": "area", "opacity": 0}, "encoding": {
       "x": {"field": "x", "type": "quantitative", "scale": {"domain": [-4.91, 104.71], "nice": false, "zero": false}, "axis": {"orient": "bottom", "values": [12.5, 37.5, 62.5, 87.5], "grid": true, "gridWidth": 1.5, "labels": false, "ticks": false, "title": null}},
       "y": {"field": "y", "type": "quantitative", "stack": null, "scale": {"domain": [-0.45, 8.96], "range": [346, 80], "nice": false, "zero": false}, "axis": {"orient": "left", "values": [1.25, 3.75, 6.25, 8.75], "grid": true, "gridWidth": 1.5, "labels": false, "ticks": false, "title": null}}}},
     {"mark": {"type": "area", "color": "#88D1FA"}, "encoding": {
       "x": {"field": "x", "type": "quantitative", "axis": {"orient": "bottom", "values": [0, 25, 50, 75, 100], "grid": true, "gridWidth": 3, "labels": false, "ticks": false, "title": null}},
       "y": {"field": "y", "type": "quantitative", "stack": null, "axis": {"orient": "left", "values": [0, 2.5, 5, 7.5], "format": ".1f", "grid": true, "gridWidth": 3, "tickSize": 10, "tickWidth": 2.7, "labelPadding": 8, "title": null}}}}]},
   {"data": {"values": [{"label": "South Asia"}]}, "layer": [
     {"mark": {"type": "rect", "color": "#D2D2D2"}, "encoding": {"y": {"datum": 0, "type": "quantitative", "scale": {"domain": [0, 1], "range": [80, 0]}, "axis": null}, "y2": {"datum": 1}}},
     {"mark": {"type": "text", "fontSize": 41, "color": "#1A1A1A", "baseline": "middle", "align": "center"}, "encoding": {"text": {"field": "label"}, "y": {"datum": 0.5, "type": "quantitative"}}}]}
  ]},

 {"width": 698, "height": 346, "view": {"fill": "#E5E5E5", "stroke": null}, "resolve": {"scale": {"y": "independent"}, "axis": {"x": "independent", "y": "independent"}},
  "layer": [
   {"data": {"name": "ssa1"}, "resolve": {"axis": {"x": "independent", "y": "independent"}}, "layer": [
     {"mark": {"type": "area", "opacity": 0}, "encoding": {
       "x": {"field": "x", "type": "quantitative", "scale": {"domain": [-4.0, 104.84], "nice": false, "zero": false}, "axis": {"orient": "bottom", "values": [12.5, 37.5, 62.5, 87.5], "grid": true, "gridWidth": 1.5, "labels": false, "ticks": false, "title": null}},
       "y": {"field": "y", "type": "quantitative", "stack": null, "scale": {"domain": [-0.26, 5.36], "range": [346, 80], "nice": false, "zero": false}, "axis": {"orient": "left", "values": [0.5, 1.5, 2.5, 3.5, 4.5], "grid": true, "gridWidth": 1.5, "labels": false, "ticks": false, "title": null}}}},
     {"mark": {"type": "area", "color": "#3AAE84"}, "encoding": {
       "x": {"field": "x", "type": "quantitative", "axis": {"orient": "bottom", "values": [0, 25, 50, 75, 100], "grid": true, "gridWidth": 3, "tickSize": 10, "tickWidth": 2.7, "labelPadding": 11, "title": "Predicted Coverage", "titlePadding": 13}},
       "y": {"field": "y", "type": "quantitative", "stack": null, "axis": {"orient": "left", "values": [0, 1, 2, 3, 4, 5], "grid": true, "gridWidth": 3, "tickSize": 10, "tickWidth": 2.7, "labelPadding": 8, "title": null}}}}]},
   {"data": {"values": [{"label": "Sub-Saharan Africa"}]}, "layer": [
     {"mark": {"type": "rect", "color": "#D2D2D2"}, "encoding": {"y": {"datum": 0, "type": "quantitative", "scale": {"domain": [0, 1], "range": [80, 0]}, "axis": null}, "y2": {"datum": 1}}},
     {"mark": {"type": "text", "fontSize": 41, "color": "#1A1A1A", "baseline": "middle", "align": "center"}, "encoding": {"text": {"field": "label"}, "y": {"datum": 0.5, "type": "quantitative"}}}]}
  ]},
 {"width": 671, "height": 346, "view": {"fill": "#E5E5E5", "stroke": null}, "resolve": {"scale": {"y": "independent"}, "axis": {"x": "independent", "y": "independent"}},
  "layer": [
   {"data": {"name": "ssa2"}, "resolve": {"axis": {"x": "independent", "y": "independent"}}, "layer": [
     {"mark": {"type": "area", "opacity": 0}, "encoding": {
       "x": {"field": "x", "type": "quantitative", "scale": {"domain": [-3.3, 105.14], "nice": false, "zero": false}, "axis": {"orient": "bottom", "values": [12.5, 37.5, 62.5, 87.5], "grid": true, "gridWidth": 1.5, "labels": false, "ticks": false, "title": null}},
       "y": {"field": "y", "type": "quantitative", "stack": null, "scale": {"domain": [-2.8, 57.6], "range": [346, 80], "nice": false, "zero": false}, "axis": {"orient": "left", "values": [10, 30, 50], "grid": true, "gridWidth": 1.5, "labels": false, "ticks": false, "title": null}}}},
     {"mark": {"type": "area", "color": "#3AAE84"}, "encoding": {
       "x": {"field": "x", "type": "quantitative", "axis": {"orient": "bottom", "values": [0, 25, 50, 75, 100], "grid": true, "gridWidth": 3, "tickSize": 10, "tickWidth": 2.7, "labelPadding": 11, "title": "Predicted Coverage", "titlePadding": 13}},
       "y": {"field": "y", "type": "quantitative", "stack": null, "axis": {"orient": "left", "values": [0, 20, 40], "grid": true, "gridWidth": 3, "tickSize": 10, "tickWidth": 2.7, "labelPadding": 8, "title": null}}}}]},
   {"data": {"values": [{"label": "Sub-Saharan Africa"}]}, "layer": [
     {"mark": {"type": "rect", "color": "#D2D2D2"}, "encoding": {"y": {"datum": 0, "type": "quantitative", "scale": {"domain": [0, 1], "range": [80, 0]}, "axis": null}, "y2": {"datum": 1}}},
     {"mark": {"type": "text", "fontSize": 41, "color": "#1A1A1A", "baseline": "middle", "align": "center"}, "encoding": {"text": {"field": "label"}, "y": {"datum": 0.5, "type": "quantitative"}}}]}
  ]},
 {"width": 670, "height": 346, "view": {"fill": "#E5E5E5", "stroke": null}, "resolve": {"scale": {"y": "independent"}, "axis": {"x": "independent", "y": "independent"}},
  "layer": [
   {"data": {"name": "ssa3"}, "resolve": {"axis": {"x": "independent", "y": "independent"}}, "layer": [
     {"mark": {"type": "area", "opacity": 0}, "encoding": {
       "x": {"field": "x", "type": "quantitative", "scale": {"domain": [-4.91, 104.71], "nice": false, "zero": false}, "axis": {"orient": "bottom", "values": [12.5, 37.5, 62.5, 87.5], "grid": true, "gridWidth": 1.5, "labels": false, "ticks": false, "title": null}},
       "y": {"field": "y", "type": "quantitative", "stack": null, "scale": {"domain": [-0.45, 8.96], "range": [346, 80], "nice": false, "zero": false}, "axis": {"orient": "left", "values": [1.25, 3.75, 6.25, 8.75], "grid": true, "gridWidth": 1.5, "labels": false, "ticks": false, "title": null}}}},
     {"mark": {"type": "area", "color": "#3AAE84"}, "encoding": {
       "x": {"field": "x", "type": "quantitative", "axis": {"orient": "bottom", "values": [0, 25, 50, 75, 100], "grid": true, "gridWidth": 3, "tickSize": 10, "tickWidth": 2.7, "labelPadding": 11, "title": "Predicted Coverage", "titlePadding": 13}},
       "y": {"field": "y", "type": "quantitative", "stack": null, "axis": {"orient": "left", "values": [0, 2.5, 5, 7.5], "format": ".1f", "grid": true, "gridWidth": 3, "tickSize": 10, "tickWidth": 2.7, "labelPadding": 8, "title": null}}}}]},
   {"data": {"values": [{"label": "Sub-Saharan Africa"}]}, "layer": [
     {"mark": {"type": "rect", "color": "#D2D2D2"}, "encoding": {"y": {"datum": 0, "type": "quantitative", "scale": {"domain": [0, 1], "range": [80, 0]}, "axis": null}, "y2": {"datum": 1}}},
     {"mark": {"type": "text", "fontSize": 41, "color": "#1A1A1A", "baseline": "middle", "align": "center"}, "encoding": {"text": {"field": "label"}, "y": {"datum": 0.5, "type": "quantitative"}}}]}
  ]}
]
}
